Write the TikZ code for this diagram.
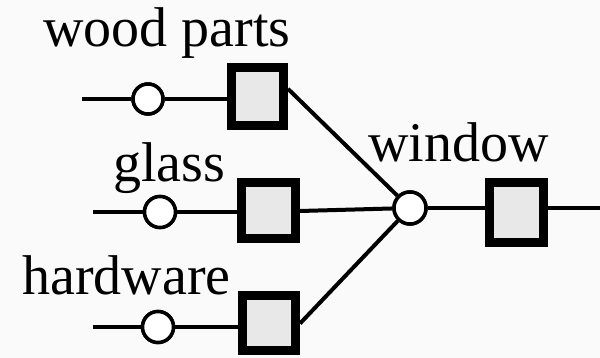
\documentclass[tikz,border=0pt]{standalone}
\usepackage{fontspec}
\setmainfont{Liberation Serif}
\begin{document}
\begin{tikzpicture}[x=1pt,y=1pt,
  wire/.style={line width=4pt},
  joint/.style={circle,draw,line width=3.5pt,fill=white,inner sep=0pt},
  buffer/.style={rectangle,draw,line width=9pt,fill=black!9,inner sep=0pt},
  tag/.style={anchor=base west,inner sep=0pt,font=\fontsize{56}{60}\selectfont}]
  \fill[black!2] (0,0) rectangle (600,358);
  \useasboundingbox (0,0) rectangle (600,358);

  % labels
  \node[tag] (lwood) at (43,311) {wood parts};
  \node[tag] (lglass) at (113,176) {glass};
  \node[tag] (lhard) at (22,63) {hardware};
  \node[tag] (lwin) at (368,196) {window};

  % input rows
  \coordinate (in1) at (82,259);
  \coordinate (in2) at (93,146);
  \coordinate (in3) at (93,31);
  \node[joint,minimum size=30pt] (c1) at (148,259) {};
  \node[joint,minimum size=31pt] (c2) at (160,146) {};
  \node[joint,minimum size=31pt] (c3) at (158,31) {};
  \node[buffer,minimum width=52pt,minimum height=58pt] (s1) at (257.5,261.5) {};
  \node[buffer,minimum width=54pt,minimum height=56pt] (s2) at (268.5,147) {};
  \node[buffer,minimum width=53pt,minimum height=55pt] (s3) at (269,34.5) {};

  % assembly joint and output buffer
  \node[joint,minimum size=32pt] (cc) at (410,150) {};
  \node[buffer,minimum width=54pt,minimum height=60pt] (sw) at (516.5,145.5) {};
  \coordinate (out) at (600,150);

  \draw[wire] (in1) -- (c1) -- (c1 -| s1.west);
  \draw[wire] (in2) -- (c2) -- (c2 -| s2.west);
  \draw[wire] (in3) -- (c3) -- (c3 -| s3.west);
  \draw[wire] (s1.14) -- (cc);
  \draw[wire] (s2.east) -- (cc);
  \draw[wire] (s3.east) -- (cc);
  \draw[wire] (cc) -- (cc -| sw.west);
  \draw[wire] (cc -| sw.east) -- (out);

  % redraw the joints on top of the wires
  \node[joint,minimum size=30pt] at (c1) {};
  \node[joint,minimum size=31pt] at (c2) {};
  \node[joint,minimum size=31pt] at (c3) {};
  \node[joint,minimum size=32pt] at (cc) {};
\end{tikzpicture}
\end{document}
